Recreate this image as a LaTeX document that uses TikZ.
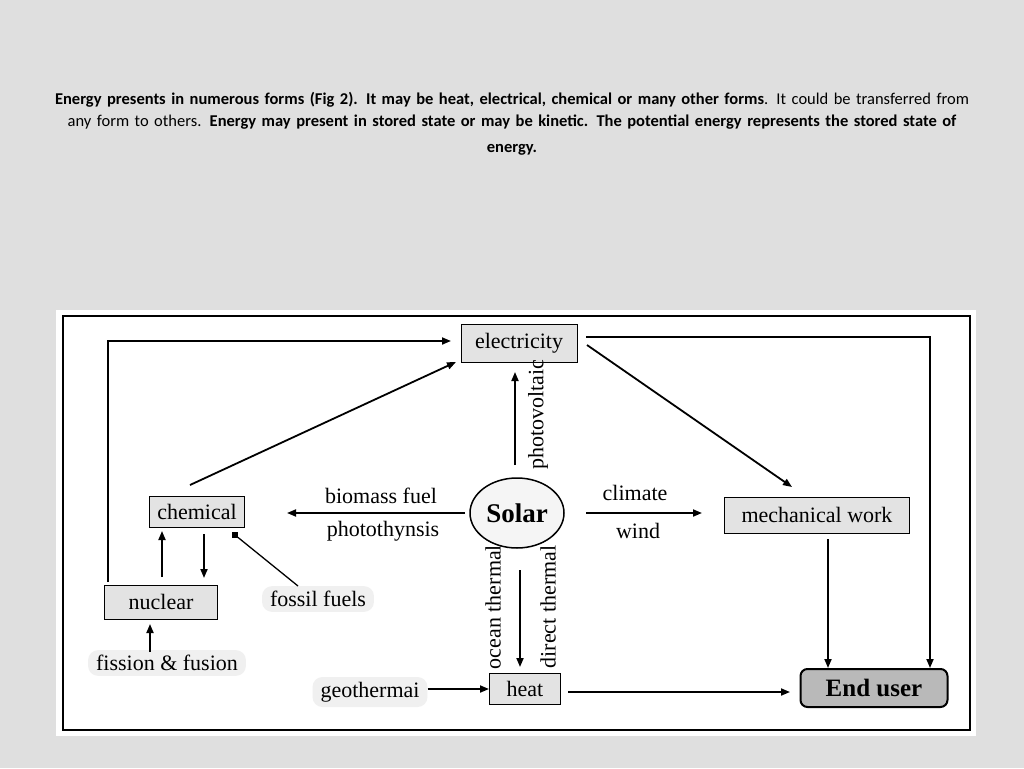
\documentclass[tikz,border=0pt]{standalone}
\usepackage{fontspec}
\setmainfont{Liberation Serif}
\newfontfamily\titlefont{Carlito}
\usetikzlibrary{arrows.meta,shapes.geometric}
\begin{document}
\begin{tikzpicture}[x=1pt,y=-1pt,
  box/.style={draw,fill=gray!22,line width=1pt,inner sep=0pt},
  lab/.style={font=\fontsize{22}{22}\selectfont},
  cloud/.style={fill=gray!12,rounded corners=10pt,inner xsep=8pt,inner ysep=5pt,font=\fontsize{22}{22}\selectfont},
  arr/.style={line width=1.8pt,-{Triangle[length=9pt,width=7pt]}}]
\fill[gray!25] (0,0) rectangle (1024,768);
\useasboundingbox (0,0) rectangle (1024,768);
\fill[white] (56,310) rectangle (976,736);
\draw[line width=2.5pt] (63,316) rectangle (970,730);
\node[align=center,font=\titlefont\fontsize{16.5}{22}\selectfont,text width=920pt] (title) at (512,124)
{\textbf{Energy presents in numerous forms (Fig 2). It may be heat, electrical, chemical or many other forms}. It could be transferred from any form to others. \textbf{Energy may present in stored state or may be kinetic. The potential energy represents the stored state of}\\[4pt] \textbf{energy.}};
\node[box,minimum width=116pt,minimum height=38pt,lab] (el) at (519,343) {electricity};
\node[box,minimum width=95pt,minimum height=31pt,lab] (ch) at (197,512) {chemical};
\node[box,minimum width=113pt,minimum height=34pt,lab] (nu) at (161,602) {nuclear};
\node[draw,line width=1.5pt,fill=gray!8,ellipse,minimum width=94pt,minimum height=70pt,inner sep=0pt,font=\fontsize{27}{27}\selectfont\bfseries] (so) at (517,513) {Solar};
\node[box,minimum width=185pt,minimum height=36pt,lab] (me) at (817,515) {mechanical work};
\node[box,minimum width=71pt,minimum height=31pt,lab] (he) at (525,689) {heat};
\node[draw,line width=2pt,fill=gray!55,rounded corners=7pt,minimum width=147pt,minimum height=38pt,font=\fontsize{25}{25}\selectfont\bfseries] (eu) at (874,688) {End user};
\node[cloud] (ff) at (318,599) {fossil fuels};
\node[cloud] (fi) at (167,663) {fission \& fusion};
\node[cloud] (ge) at (370,692) {geothermai};
\coordinate (c1) at (108,582);
\draw[arr] (c1) |- (451,341);
\draw[arr] (190,485) -- (456,362);
\draw[arr] (465,513) -- (287,513);
\node[lab] (bf) at (381,496) {biomass fuel};
\node[lab] (ph) at (383,531) {photothynsis};
\draw[arr] (515,465) -- (515,372);
\node[lab,rotate=90] (pv) at (538,415) {photovoltaic};
\draw[arr] (586,513) -- (702,513);
\node[lab] (cl) at (635,493) {climate};
\node[lab] (wi) at (638,531) {wind};
\draw[arr] (587,345) -- (792,487);
\draw[arr] (586,337) -| (930,668);
\draw[arr] (828,539) -- (828,668);
\draw[arr] (568,692) -- (790,692);
\draw[arr] (ge.east |- he.west) -- (he.west);
\draw[arr] (520,570) -- (520,667);
\node[lab,rotate=90] (ot) at (493,607) {ocean thermal};
\node[lab,rotate=90] (dt) at (548,607) {direct thermal};
\draw[arr] (162,577) -- (162,531);
\draw[arr] (204,534) -- (204,578);
\node[fill=black,minimum size=6pt,inner sep=0pt] (sq) at (235,535) {};
\draw[line width=1.3pt] (298,586) -- (sq.center);
\draw[arr] (150,652) -- (150,624);
\end{tikzpicture}
\end{document}
